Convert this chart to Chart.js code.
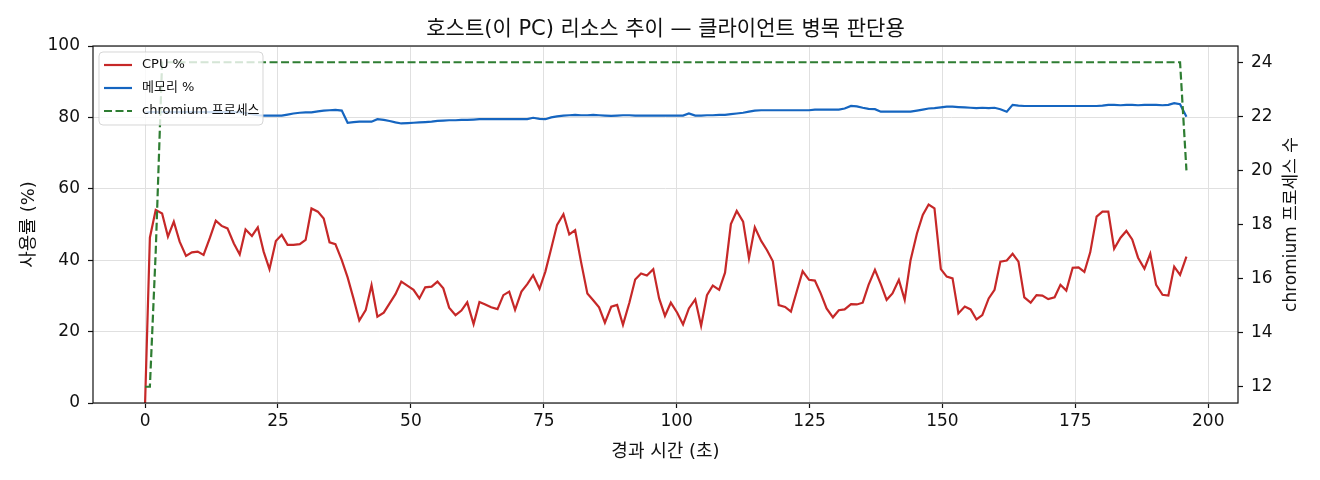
<!DOCTYPE html>
<html lang="ko">
<head>
<meta charset="utf-8">
<title>호스트 리소스 추이</title>
<script src="https://cdn.jsdelivr.net/npm/chart.js@4.4.1/dist/chart.umd.min.js"></script>
<style>
  html, body { margin: 0; padding: 0; background: #fff; }
  canvas { display: block; }
</style>
</head>
<body>
<canvas id="chart" width="1320" height="480"></canvas>
<script>
const FONT = '"DejaVu Sans", "Noto Sans CJK KR", sans-serif';
const TEXT = '#111';

const TITLE = '호스트(이 PC) 리소스 추이 — 클라이언트 병목 판단용';
const X_TITLE = '경과 시간 (초)';
const Y_TITLE = '사용률 (%)';
const Y2_TITLE = 'chromium 프로세스 수';

// elapsed seconds of each sample
const elapsed = [
  0, 0.9, 2.0, 3.2, 4.3, 5.4, 6.5, 7.7, 8.8, 9.9, 11.0, 12.2, 13.3, 14.4, 15.5, 16.7, 17.8, 18.9, 20.1, 21.2,
  22.3, 23.4, 24.6, 25.7, 26.8, 27.9, 29.1, 30.2, 31.3, 32.5, 33.6, 34.7, 35.8, 37.0, 38.1, 39.2, 40.3, 41.5, 42.6, 43.7,
  44.9, 46.0, 47.1, 48.2, 49.4, 50.5, 51.6, 52.7, 53.9, 55.0, 56.1, 57.2, 58.4, 59.5, 60.6, 61.8, 62.9, 64.0, 65.1, 66.3,
  67.4, 68.5, 69.6, 70.8, 71.9, 73.0, 74.2, 75.3, 76.4, 77.5, 78.7, 79.8, 80.9, 82.0, 83.2, 84.3, 85.4, 86.5, 87.7, 88.8,
  89.9, 91.1, 92.2, 93.3, 94.4, 95.6, 96.7, 97.8, 98.9, 100.1, 101.2, 102.3, 103.5, 104.6, 105.7, 106.8, 108.0, 109.1, 110.2, 111.3,
  112.5, 113.6, 114.7, 115.9, 117.0, 118.1, 119.2, 120.4, 121.5, 122.6, 123.7, 124.9, 126.0, 127.1, 128.2, 129.4, 130.5, 131.6, 132.8, 133.9,
  135.0, 136.1, 137.3, 138.4, 139.5, 140.6, 141.8, 142.9, 144.0, 145.2, 146.3, 147.4, 148.5, 149.7, 150.8, 151.9, 153.0, 154.2, 155.3, 156.4,
  157.5, 158.7, 159.8, 160.9, 162.1, 163.2, 164.3, 165.4, 166.6, 167.7, 168.8, 169.9, 171.1, 172.2, 173.3, 174.5, 175.6, 176.7, 177.8, 179.0,
  180.1, 181.2, 182.3, 183.5, 184.6, 185.7, 186.8, 188.0, 189.1, 190.2, 191.4, 192.5, 193.6, 194.7, 195.9
];

const cpuPct = [
  0, 46.3, 54.1, 53.1, 46.6, 50.8, 45.2, 41.2, 42.2, 42.4, 41.5, 46.3, 51.1, 49.6, 48.9, 44.7, 41.6, 48.6, 46.8, 49.2,
  42.4, 37.5, 45.4, 47.1, 44.3, 44.3, 44.5, 45.7, 54.5, 53.6, 51.7, 45.0, 44.5, 40.0, 35.2, 29.3, 23.1, 26.0, 33.0, 24.2,
  25.3, 27.9, 30.5, 34.0, 32.8, 31.7, 29.3, 32.4, 32.6, 34.0, 32.1, 26.7, 24.6, 25.9, 28.2, 22.1, 28.3, 27.6, 26.8, 26.3,
  30.2, 31.2, 26.1, 31.2, 33.3, 35.8, 32.0, 36.8, 43.3, 49.9, 52.9, 47.2, 48.4, 39.6, 30.7, 28.8, 26.8, 22.5, 27.0, 27.5,
  21.9, 28.1, 34.6, 36.3, 35.7, 37.5, 29.3, 24.4, 28.1, 25.3, 22.0, 26.5, 29.0, 21.6, 30.2, 32.9, 31.7, 36.5, 50.1, 53.8,
  50.8, 40.5, 49.2, 45.4, 42.8, 39.7, 27.4, 26.9, 25.6, 31.3, 36.9, 34.5, 34.3, 30.7, 26.5, 24.0, 26.0, 26.2, 27.7, 27.6,
  28.1, 33.1, 37.3, 33.3, 28.9, 30.7, 34.5, 28.9, 40.0, 47.5, 52.7, 55.6, 54.5, 37.5, 35.4, 34.9, 25.1, 27.0, 26.2, 23.4,
  24.6, 29.3, 31.7, 39.6, 39.9, 41.8, 39.6, 29.6, 28.1, 30.2, 30.1, 29.1, 29.6, 33.1, 31.5, 37.9, 38.0, 36.7, 42.2, 52.2,
  53.6, 53.6, 43.2, 46.3, 48.2, 45.8, 40.7, 37.6, 41.8, 33.1, 30.3, 30.1, 38.2, 35.9, 41.0
];

const memPct = [
  81.3, 81.5, 81.5, 81.5, 81.5, 81.5, 81.5, 81.5, 81.5, 81.5, 81.5, 81.5, 81.5, 81.5, 81.5, 81.5, 81.5, 81.2, 80.9, 80.6,
  80.5, 80.5, 80.5, 80.5, 80.8, 81.1, 81.3, 81.4, 81.4, 81.7, 81.9, 82.0, 82.1, 81.9, 78.5, 78.7, 78.8, 78.8, 78.8, 79.5,
  79.3, 79.0, 78.6, 78.3, 78.4, 78.5, 78.6, 78.7, 78.8, 79.0, 79.1, 79.2, 79.2, 79.3, 79.3, 79.4, 79.5, 79.5, 79.5, 79.5,
  79.5, 79.5, 79.5, 79.5, 79.5, 79.9, 79.6, 79.5, 80.0, 80.3, 80.5, 80.6, 80.7, 80.6, 80.6, 80.7, 80.6, 80.5, 80.4, 80.5,
  80.6, 80.6, 80.5, 80.5, 80.5, 80.5, 80.5, 80.5, 80.5, 80.5, 80.5, 81.1, 80.5, 80.5, 80.6, 80.6, 80.7, 80.7, 80.9, 81.1,
  81.3, 81.6, 81.9, 82.0, 82.0, 82.0, 82.0, 82.0, 82.0, 82.0, 82.0, 82.0, 82.2, 82.2, 82.2, 82.2, 82.2, 82.5, 83.2, 83.1,
  82.7, 82.4, 82.3, 81.6, 81.6, 81.6, 81.6, 81.6, 81.6, 81.9, 82.2, 82.5, 82.6, 82.8, 83.0, 83.0, 82.9, 82.8, 82.7, 82.6,
  82.7, 82.6, 82.7, 82.3, 81.6, 83.5, 83.3, 83.2, 83.2, 83.2, 83.2, 83.2, 83.2, 83.2, 83.2, 83.2, 83.2, 83.2, 83.2, 83.2,
  83.3, 83.5, 83.5, 83.4, 83.5, 83.5, 83.4, 83.5, 83.5, 83.5, 83.4, 83.5, 84.0, 83.7, 80.2
];

const chromiumProcs = [
  12, 12, 17, 24, 24, 24, 24, 24, 24, 24, 24, 24, 24, 24, 24, 24, 24, 24, 24, 24,
  24, 24, 24, 24, 24, 24, 24, 24, 24, 24, 24, 24, 24, 24, 24, 24, 24, 24, 24, 24,
  24, 24, 24, 24, 24, 24, 24, 24, 24, 24, 24, 24, 24, 24, 24, 24, 24, 24, 24, 24,
  24, 24, 24, 24, 24, 24, 24, 24, 24, 24, 24, 24, 24, 24, 24, 24, 24, 24, 24, 24,
  24, 24, 24, 24, 24, 24, 24, 24, 24, 24, 24, 24, 24, 24, 24, 24, 24, 24, 24, 24,
  24, 24, 24, 24, 24, 24, 24, 24, 24, 24, 24, 24, 24, 24, 24, 24, 24, 24, 24, 24,
  24, 24, 24, 24, 24, 24, 24, 24, 24, 24, 24, 24, 24, 24, 24, 24, 24, 24, 24, 24,
  24, 24, 24, 24, 24, 24, 24, 24, 24, 24, 24, 24, 24, 24, 24, 24, 24, 24, 24, 24,
  24, 24, 24, 24, 24, 24, 24, 24, 24, 24, 24, 24, 24, 24, 20
];

const toPoints = (values) => values.map((v, i) => ({ x: elapsed[i], y: v }));

// matplotlib-like box around the plot area
const framePlugin = {
  id: 'frame',
  afterDatasetsDraw(chart) {
    const { ctx, chartArea: a } = chart;
    ctx.save();
    ctx.strokeStyle = TEXT;
    ctx.lineWidth = 1.2;
    ctx.strokeRect(a.left, a.top, a.right - a.left, a.bottom - a.top);
    ctx.restore();
  },
};

// semi-transparent legend box in the upper left corner
const legendPlugin = {
  id: 'boxLegend',
  afterDatasetsDraw(chart) {
    const { ctx, chartArea: a } = chart;
    const x = a.left + 6, y = a.top + 6, w = 164, h = 73, r = 4;
    ctx.save();
    ctx.beginPath();
    ctx.roundRect(x, y, w, h, r);
    ctx.fillStyle = 'rgba(255,255,255,0.8)';
    ctx.fill();
    ctx.strokeStyle = 'rgba(204,204,204,0.8)';
    ctx.lineWidth = 1;
    ctx.stroke();
    ctx.font = '13px ' + FONT;
    ctx.textBaseline = 'middle';
    ctx.textAlign = 'left';
    chart.data.datasets.forEach((ds, i) => {
      const rowY = y + 13 + i * 23;
      ctx.beginPath();
      ctx.setLineDash(ds.borderDash || []);
      ctx.strokeStyle = ds.borderColor;
      ctx.lineWidth = ds.borderWidth;
      ctx.moveTo(x + 5, rowY);
      ctx.lineTo(x + 33, rowY);
      ctx.stroke();
      ctx.setLineDash([]);
      ctx.fillStyle = TEXT;
      ctx.fillText(ds.label, x + 43, rowY);
    });
    ctx.restore();
  },
};

const titlesPlugin = {
  id: 'titles',
  afterDraw(chart) {
    const { ctx, chartArea: a } = chart;
    const cx = (a.left + a.right) / 2;
    const cy = (a.top + a.bottom) / 2;
    ctx.save();
    ctx.fillStyle = TEXT;
    ctx.textAlign = 'center';
    ctx.textBaseline = 'middle';
    ctx.font = '21px ' + FONT;
    ctx.fillText(TITLE, cx, 30);
    ctx.font = '18px ' + FONT;
    ctx.fillText(X_TITLE, cx, 452);
    ctx.save();
    ctx.translate(29, cy);
    ctx.rotate(-Math.PI / 2);
    ctx.fillText(Y_TITLE, 0, 0);
    ctx.restore();
    ctx.font = '17px ' + FONT;
    ctx.translate(1292, cy);
    ctx.rotate(-Math.PI / 2);
    ctx.fillText(Y2_TITLE, 0, 0);
    ctx.restore();
  },
};

Chart.defaults.font.family = FONT;
Chart.defaults.color = TEXT;

const tickGrid = (onArea) => ({
  drawOnChartArea: onArea,
  color: '#e0e0e0',
  lineWidth: 1,
  tickLength: 5,
  tickColor: TEXT,
  tickWidth: 1.2,
});

new Chart(document.getElementById('chart'), {
  type: 'line',
  data: {
    datasets: [
      {
        label: 'CPU %',
        data: toPoints(cpuPct),
        borderColor: '#c62828',
        borderWidth: 2.2,
        yAxisID: 'y',
        order: 3,
      },
      {
        label: '메모리 %',
        data: toPoints(memPct),
        borderColor: '#1565c0',
        borderWidth: 2.2,
        yAxisID: 'y',
        order: 2,
      },
      {
        label: 'chromium 프로세스',
        data: toPoints(chromiumProcs),
        borderColor: '#2e7d32',
        borderWidth: 2.2,
        borderDash: [8, 3.5],
        yAxisID: 'y1',
        order: 1,
      },
    ],
  },
  options: {
    responsive: false,
    animation: false,
    devicePixelRatio: 1,
    layout: { padding: { top: 46, left: 0, right: 0, bottom: 0 } },
    elements: { point: { radius: 0 }, line: { tension: 0 } },
    plugins: {
      legend: { display: false },
      tooltip: { enabled: false },
      title: { display: false },
    },
    scales: {
      x: {
        type: 'linear',
        min: -9.8,
        max: 205.6,
        border: { display: false },
        grid: tickGrid(true),
        ticks: { stepSize: 25, includeBounds: false, padding: 3, maxRotation: 0, autoSkip: false, font: { size: 17 } },
        afterFit(scale) { scale.height = 77; },
      },
      y: {
        position: 'left',
        min: 0,
        max: 100,
        border: { display: false },
        grid: tickGrid(true),
        ticks: { stepSize: 20, padding: 8, font: { size: 17 } },
        afterFit(scale) { scale.width = 93; },
      },
      y1: {
        position: 'right',
        min: 11.4,
        max: 24.6,
        border: { display: false },
        grid: tickGrid(false),
        ticks: { stepSize: 2, includeBounds: false, padding: 8, font: { size: 17 } },
        afterFit(scale) { scale.width = 82; },
      },
    },
  },
  plugins: [framePlugin, legendPlugin, titlesPlugin],
});
</script>
</body>
</html>
